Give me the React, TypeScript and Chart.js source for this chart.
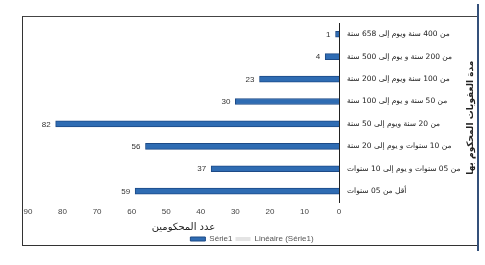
import React, { useEffect, useRef } from "react";
import { Chart, registerables } from "chart.js";

Chart.register(...registerables);

const categories: string[] = [
  "من 400 سنة ويوم إلى 658 سنة",
  "من 200 سنة و يوم إلى 500 سنة",
  "من 100 سنة ويوم إلى 200 سنة",
  "من 50 سنة و يوم إلى 100 سنة",
  "من 20 سنة ويوم إلى 50 سنة",
  "من 10 سنوات و يوم إلى 20 سنة",
  "من 05 سنوات و يوم إلى 10 سنوات",
  "أقل من 05 سنوات",
];
const serie1: number[] = [1, 4, 23, 30, 82, 56, 37, 59];
const xMin = 0;
const xMax = 90;
const xStep = 10;
const seriesName = "Série1";
const trendName = "Linéaire (Série1)";
const xTitle = "عدد المحكومين";
const yTitle = "مدة العقوبات المحكوم بها";

const valueLabels = {
  id: "valueLabels",
  afterDatasetsDraw(chart: any) {
    const ctx = chart.ctx;
    const meta = chart.getDatasetMeta(0);
    ctx.save();
    ctx.font = '8px "Liberation Sans", Arial, sans-serif';
    ctx.fillStyle = "#333";
    ctx.textAlign = "right";
    ctx.textBaseline = "middle";
    meta.data.forEach((el: any, i: number) => {
      ctx.fillText(String(serie1[i]), el.x - 5, el.y + 0.5);
    });
    ctx.restore();
  },
};

// Right-side axis title, rotated counter-clockwise (as in the reference)
const yAxisTitle = {
  id: "yAxisTitle",
  afterDraw(chart: any) {
    const ctx = chart.ctx;
    const ys = chart.scales.y;
    const cy = (ys.top + ys.bottom) / 2 + 5;
    const cx = ys.right - 5;
    ctx.save();
    ctx.translate(cx, cy);
    ctx.rotate(-Math.PI / 2);
    ctx.font = 'bold 9px "DejaVu Sans", serif';
    ctx.fillStyle = "#222";
    ctx.textAlign = "center";
    ctx.textBaseline = "middle";
    ctx.fillText(yTitle, 0, 0);
    ctx.restore();
  },
};

export default function App() {
  const ref = useRef<HTMLCanvasElement | null>(null);

  useEffect(() => {
    if (!ref.current) return;
    const chart = new Chart(ref.current, {
      type: "bar",
      data: {
        labels: categories,
        datasets: [
          {
            label: seriesName,
            data: serie1,
            backgroundColor: "#2f6cb3",
            borderColor: "#1d4a86",
            borderWidth: 1,
            barThickness: 6,
          },
          {
            type: "line",
            label: trendName,
            data: [],
            backgroundColor: "#e4e4e4",
            borderColor: "#e4e4e4",
            borderWidth: 0,
          } as any,
        ],
      },
      options: {
        indexAxis: "y",
        animation: false,
        responsive: false,
        maintainAspectRatio: false,
        layout: { padding: { left: 28, top: 23, right: 9, bottom: 12 } },
        plugins: {
          legend: {
            position: "bottom",
            labels: {
              boxWidth: 15,
              boxHeight: 4,
              padding: 3,
              color: "#555",
              font: { size: 8, family: '"Liberation Sans", Arial, sans-serif' },
            },
          },
          tooltip: { enabled: false },
        },
        scales: {
          x: {
            type: "linear",
            reverse: true,
            min: xMin,
            max: xMax,
            grid: { display: false, drawTicks: false },
            border: { display: false },
            ticks: {
              stepSize: xStep,
              padding: 5,
              color: "#444",
              font: { size: 8, family: '"Liberation Sans", Arial, sans-serif' },
            },
            title: {
              display: true,
              text: xTitle,
              color: "#222",
              padding: { top: 0, bottom: 0 },
              font: { size: 10, lineHeight: 1, family: '"DejaVu Sans", serif' },
            },
          },
          y: {
            position: "right",
            grid: { display: false, drawTicks: false },
            border: { display: true, color: "#222", width: 1 },
            ticks: {
              padding: 8,
              color: "#222",
              font: { size: 7.5, family: '"DejaVu Sans", sans-serif' },
            },
            title: { display: false },
            afterFit(scale: any) {
              scale.width = 137;
            },
          },
        },
      },
      plugins: [valueLabels, yAxisTitle],
    });
    return () => chart.destroy();
  }, []);

  return (
    <div
      style={{
        position: "fixed",
        left: 0,
        top: 0,
        width: 485,
        height: 265,
        background: "#fff",
        overflow: "hidden",
      }}
    >
      <canvas
        ref={ref}
        width={485}
        height={265}
        style={{ position: "absolute", left: 0, top: 0, width: 485, height: 265 }}
      />
      <div
        style={{
          position: "absolute",
          left: 22,
          top: 16,
          width: 455,
          height: 230,
          boxSizing: "border-box",
          borderLeft: "1.5px solid #333",
          borderTop: "1.5px solid #444",
          borderBottom: "1.5px solid #333",
          pointerEvents: "none",
        }}
      />
      <div
        style={{
          position: "absolute",
          left: 477,
          top: 4,
          width: 1.5,
          height: 247,
          background: "#34507a",
          pointerEvents: "none",
        }}
      />
    </div>
  );
}
